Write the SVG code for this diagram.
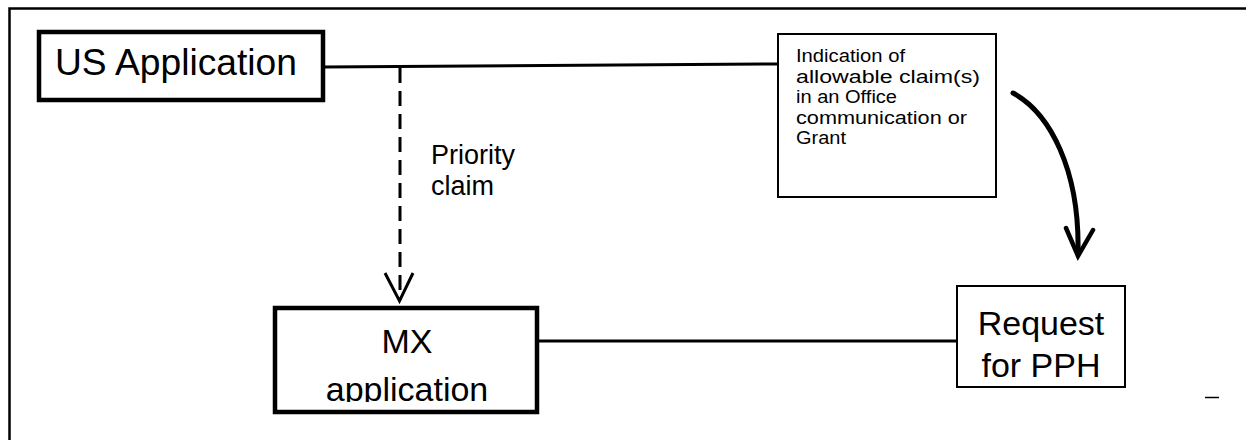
<svg xmlns="http://www.w3.org/2000/svg" width="1246" height="440" viewBox="0 0 1246 440">
  <style>
    .frame { fill: none; stroke: #000; stroke-width: 2.5; }
    .box-heavy { fill: #fff; stroke: #000; stroke-width: 4.5; }
    .box-light { fill: #fff; stroke: #000; stroke-width: 2; }
    .link { fill: none; stroke: #000; stroke-width: 3; }
    .dashed { fill: none; stroke: #000; stroke-width: 3; stroke-dasharray: 15 8; }
    .head { fill: none; stroke: #000; stroke-width: 3; stroke-linejoin: miter; }
    .curve { fill: none; stroke: #000; stroke-width: 5; stroke-linecap: round; }
    .curve-head { fill: none; stroke: #000; stroke-width: 4.5; stroke-linecap: round; stroke-linejoin: miter; }
    text { font-family: "Liberation Sans", Arial, sans-serif; fill: #000; }
    .big { font-size: 36px; }
    .mid { font-size: 34px; }
    .label { font-size: 27px; }
    .small { font-size: 17.5px; }
  </style>
  <defs>
    <clipPath id="mx-clip">
      <rect x="275" y="308" width="262" height="94"/>
    </clipPath>
  </defs>

  <rect width="1246" height="440" fill="#fff"/>

  <!-- outer frame: only top and left edges fall inside the view -->
  <path class="frame" d="M9.5,440 V8.5 H1246"/>

  <!-- connectors -->
  <g id="connectors">
    <path class="link" d="M323,67 L778,64"/>
    <path class="link" d="M537,341 H957"/>
    <path class="dashed" d="M400,68 V300"/>
    <path class="head" d="M385,273 L399.5,301 L413,273"/>
    <path class="curve" d="M1013,93 C1050,113 1080,170 1078,254"/>
    <path class="curve-head" d="M1066,228 L1078,256 L1093,230"/>
  </g>

  <g id="priority-label">
    <text class="label" x="431" y="164">Priority</text>
    <text class="label" x="431" y="195">claim</text>
  </g>

  <g id="us-application">
    <rect class="box-heavy" x="39" y="32" width="284" height="68"/>
    <text class="big" x="55" y="75" textLength="242" lengthAdjust="spacingAndGlyphs">US Application</text>
  </g>

  <g id="indication">
    <rect class="box-light" x="778" y="34" width="218" height="163"/>
    <text class="small" x="796" y="62" textLength="109" lengthAdjust="spacingAndGlyphs">Indication of</text>
    <text class="small" x="796" y="82.5" textLength="184" lengthAdjust="spacingAndGlyphs">allowable claim(s)</text>
    <text class="small" x="796" y="103" textLength="101" lengthAdjust="spacingAndGlyphs">in an Office</text>
    <text class="small" x="796" y="123.5" textLength="171" lengthAdjust="spacingAndGlyphs">communication or</text>
    <text class="small" x="796" y="144" textLength="50" lengthAdjust="spacingAndGlyphs">Grant</text>
  </g>

  <g id="mx-application">
    <rect class="box-heavy" x="275" y="308" width="262" height="104"/>
    <g clip-path="url(#mx-clip)">
      <text class="mid" x="407" y="353" text-anchor="middle">MX</text>
      <text class="mid" x="407" y="401" text-anchor="middle">application</text>
    </g>
  </g>

  <g id="request-pph">
    <rect class="box-light" x="957" y="286" width="168" height="101"/>
    <text class="mid" x="1041" y="335" text-anchor="middle">Request</text>
    <text class="mid" x="1041" y="377" text-anchor="middle">for PPH</text>
  </g>

  <!-- short stray stroke near the lower right -->
  <path d="M1205,397.5 H1219" stroke="#000" stroke-width="1.5"/>
</svg>
